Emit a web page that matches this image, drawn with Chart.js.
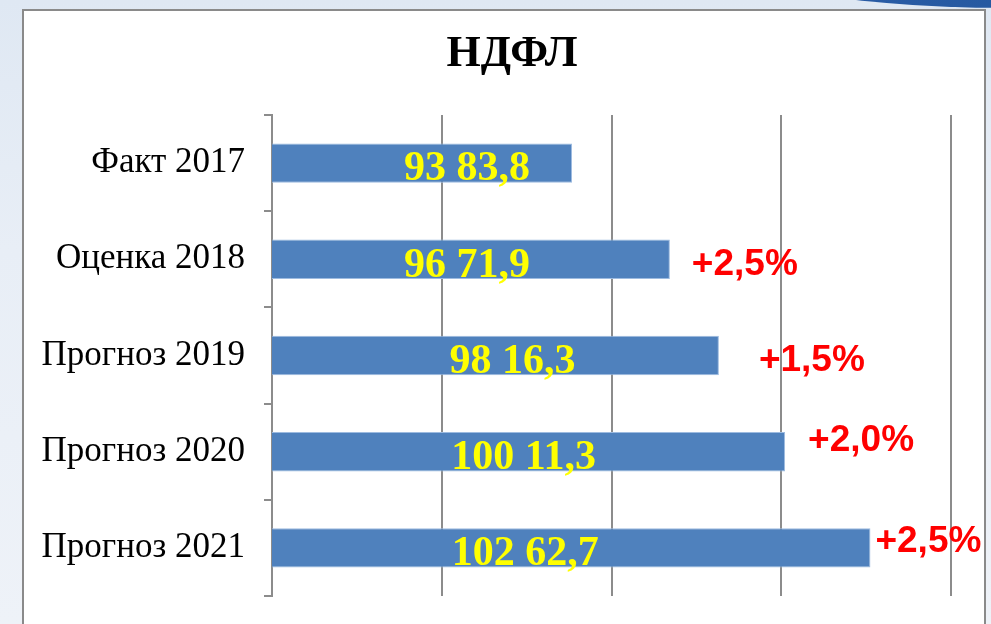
<!DOCTYPE html>
<html>
<head>
<meta charset="utf-8">
<script src="https://cdn.jsdelivr.net/npm/chart.js@4.4.1/dist/chart.umd.min.js"></script>
<style>
  html, body { margin: 0; padding: 0; }
  body {
    width: 991px; height: 624px; overflow: hidden; position: relative;
    background: linear-gradient(180deg, #dfe8f3 0%, #e8eef6 40%, #eef2f8 100%);
  }
  .swoosh {
    position: absolute; left: 752px; top: -72px; width: 520px; height: 80px;
    border-radius: 50%;
    background: linear-gradient(90deg, #2c5ea8 0%, #24589f 60%, #3d8fb8 100%);
  }
  .panel {
    position: absolute; left: 22px; top: 9px; width: 964px; height: 640px;
    background: #fff; border: 2px solid #8a8a8a; box-sizing: border-box;
  }
  canvas { position: absolute; left: 0; top: 0; }
</style>
</head>
<body>
<div class="swoosh"></div>
<div class="panel"></div>
<canvas id="myChart" width="991" height="624"></canvas>
<script>
// titolo, categorie e valori del grafico
var titolo = 'НДФЛ';
var categorie = ['Факт 2017', 'Оценка 2018', 'Прогноз 2019', 'Прогноз 2020', 'Прогноз 2021'];
var valori = [9383.8, 9671.9, 9816.3, 10011.3, 10262.7];
var etichette_valori = ['93 83,8', '96 71,9', '98 16,3', '100 11,3', '102 62,7'];
var crescita = ['', '+2,5%', '+1,5%', '+2,0%', '+2,5%'];

// scostamenti delle etichette (solo impaginazione)
var sposta_valori = [45, -4, 17, -5, -46];
var sposta_crescita_x = [0, 22, 40, 23, 5];
var sposta_crescita_y = [0, 0, 0, -16, -11];

// plugin che scrive il titolo e le etichette sulle barre
var etichette = {
  id: 'etichette',
  afterDatasetsDraw: function(chart) {
    var ctx = chart.ctx;
    var meta = chart.getDatasetMeta(0);
    var inizio = chart.chartArea.left;
    ctx.save();

    ctx.font = 'bold 44px "Liberation Serif", "Times New Roman", serif';
    ctx.fillStyle = '#000';
    ctx.textAlign = 'center';
    ctx.textBaseline = 'alphabetic';
    ctx.fillText(titolo, 512, 66);

    for (var i = 0; i < meta.data.length; i++) {
      var bar = meta.data[i];
      var centro_x = (bar.x + inizio) / 2 + sposta_valori[i];
      ctx.font = 'bold 42px "Liberation Serif", "Times New Roman", serif';
      ctx.fillStyle = '#ffff00';
      ctx.textAlign = 'center';
      ctx.fillText(etichette_valori[i], centro_x, bar.y + 42 * 0.34 + 3);

      if (crescita[i] != '') {
        ctx.font = 'bold 37px "Liberation Sans", Arial, sans-serif';
        ctx.fillStyle = '#ff0000';
        ctx.textAlign = 'left';
        ctx.fillText(crescita[i], bar.x + sposta_crescita_x[i], bar.y + 37 * 0.36 + sposta_crescita_y[i] + 2);
      }
    }
    ctx.restore();
  }
};

var ctx = document.getElementById('myChart').getContext('2d');
var myChart = new Chart(ctx, {
  type: 'bar',
  data: {
    labels: categorie,
    datasets: [{
      label: titolo,
      data: valori,
      backgroundColor: '#4f81bd',
      borderColor: '#9dbbe0',
      borderWidth: 1,
      barPercentage: 0.41,
      categoryPercentage: 1
    }]
  },
  options: {
    indexAxis: 'y',
    responsive: false,
    animation: false,
    layout: { padding: { top: 115, right: 40, bottom: 28, left: 0 } },
    plugins: {
      legend: { display: false },
      tooltip: { enabled: false },
      title: { display: false }
    },
    scales: {
      x: {
        min: 8500,
        max: 10500,
        ticks: { display: false, stepSize: 500 },
        border: { display: false },
        grid: { color: '#8c8c8c', lineWidth: 2, drawTicks: false },
        afterFit: function(scale) { scale.height = 0; }
      },
      y: {
        ticks: {
          color: '#000',
          padding: 19,
          font: { family: '"Liberation Serif", "Times New Roman", serif', size: 35 }
        },
        border: { display: true, color: '#8c8c8c', width: 2 },
        grid: { offset: true, drawOnChartArea: false, drawTicks: true, tickLength: 8, color: '#8c8c8c', lineWidth: 2 },
        afterFit: function(scale) {
          scale.width = 272;
          scale.paddingTop = 0;
          scale.paddingBottom = 0;
        }
      }
    }
  },
  plugins: [etichette]
});
</script>
</body>
</html>
